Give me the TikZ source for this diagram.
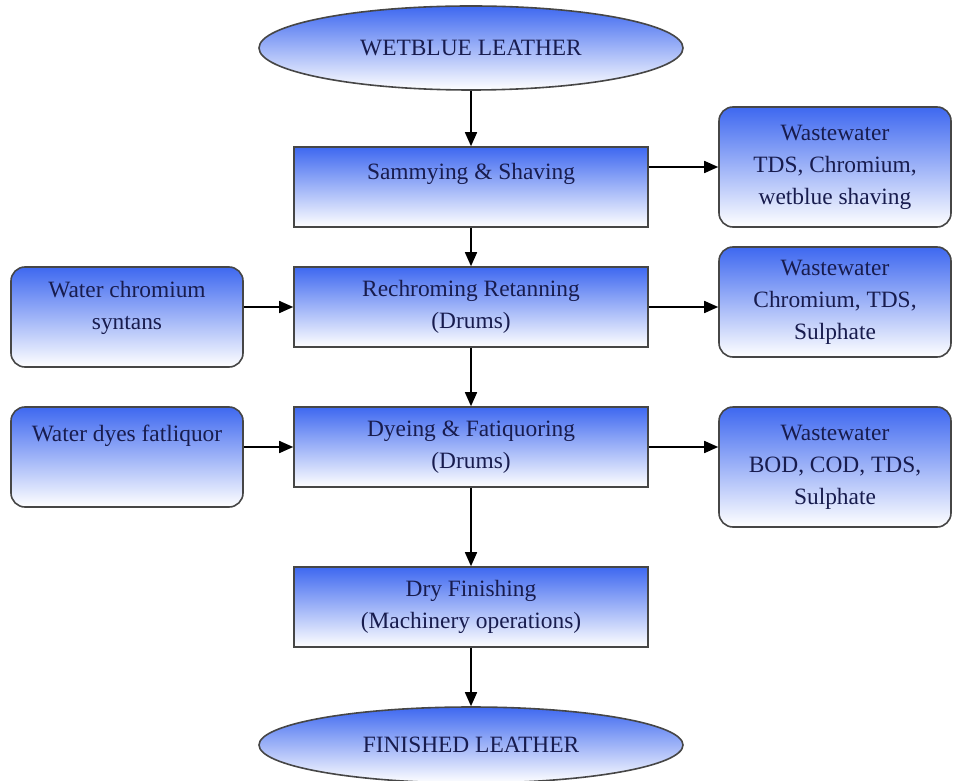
\documentclass[tikz,border=0pt]{standalone}
\usepackage{fontspec}
\setmainfont{Liberation Serif}
\newfontfamily\flowfont{Liberation Serif}
\usetikzlibrary{shapes.geometric,arrows.meta}
\definecolor{boxblue}{RGB}{62,104,240}
\definecolor{inkblue}{RGB}{24,28,78}
\definecolor{edgegray}{RGB}{70,70,70}

\begin{document}
\begin{tikzpicture}[x=0.5pt, y=-0.5pt, >={Triangle[length=7pt,width=6pt]},
  every node/.style={font=\flowfont\fontsize{11.7}{16}\selectfont, text=inkblue, align=center},
  stepbox/.style={draw=edgegray, line width=0.8pt, top color=boxblue, bottom color=white,
    minimum width=177pt, minimum height=40pt},
  sidebox/.style={stepbox, rounded corners=7pt, minimum width=116pt},
  endcap/.style={ellipse, draw=edgegray, line width=0.8pt, top color=boxblue, bottom color=white,
    minimum width=212pt, inner sep=0pt},
  flow/.style={->, line width=0.8pt, black}]

  % 0. 図の大きさ
  \useasboundingbox (0,0) rectangle (956,780);

  % 1. 主工程（中央の列）
  \node[endcap, minimum height=42pt] (wet) at (471,48) {WETBLUE LEATHER};
  \node[stepbox] (sam) at (471,187) {Sammying \& Shaving\\ \mbox{}};
  \node[stepbox] (ret) at (471,307) {Rechroming Retanning\\(Drums)};
  \node[stepbox] (dye) at (471,447) {Dyeing \& Fatiquoring\\(Drums)};
  \node[stepbox] (dry) at (471,607) {Dry Finishing\\(Machinery operations)};
  \node[endcap, minimum height=38pt] (fin) at (471,745) {FINISHED LEATHER};

  % 2. 投入物（左の列）
  \node[sidebox, minimum height=50pt] (inchrome) at (127,317) {Water chromium\\syntans\\[-4pt]\mbox{}};
  \node[sidebox, minimum height=50pt] (indye) at (127,457) {Water dyes fatliquor\\[8pt]\mbox{}};

  % 3. 排水（右の列）
  \node[sidebox, minimum height=60pt] (outsam) at (835,167) {Wastewater\\TDS, Chromium,\\wetblue shaving};
  \node[sidebox, minimum height=55pt] (outret) at (835,302) {Wastewater\\Chromium, TDS,\\Sulphate};
  \node[sidebox, minimum height=60pt] (outdye) at (835,467) {Wastewater\\BOD, COD, TDS,\\Sulphate};

  % 4. 縦の流れ
  \draw[flow] (wet.south) -- (sam.north);
  \draw[flow] (sam.south) -- (ret.north);
  \draw[flow] (ret.south) -- (dye.north);
  \draw[flow] (dye.south) -- (dry.north);
  \draw[flow] (dry.south) -- (fin.north);

  % 5. 横の流れ
  \draw[flow] (sam.east |- outsam) -- (outsam.west);
  \draw[flow] (inchrome.east |- ret) -- (ret.west);
  \draw[flow] (ret.east) -- (outret.west |- ret);
  \draw[flow] (indye.east |- dye) -- (dye.west);
  \draw[flow] (dye.east) -- (outdye.west |- dye);

\end{tikzpicture}
\end{document}
